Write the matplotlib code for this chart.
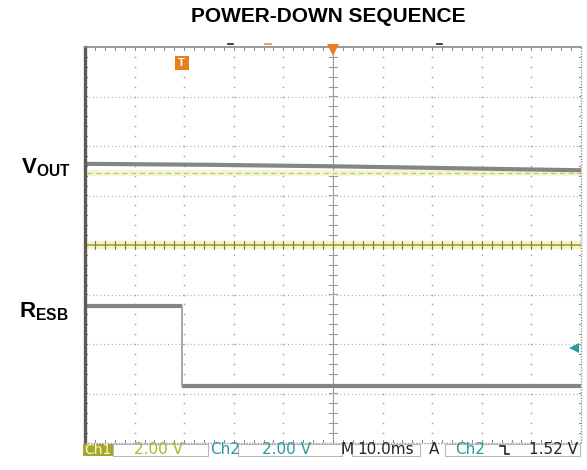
import numpy as np
import matplotlib.pyplot as plt
from matplotlib.patches import Rectangle
from matplotlib.lines import Line2D

# screen is 10 x 8 divisions, y centred on 0
vout_t = [0.0, 2.5, 5.0, 7.5, 10.0]
vout_div = [1.64, 1.62, 1.59, 1.55, 1.51]
resb_high_t = [0.0, 1.95]
resb_high = -1.23
resb_low_t = [1.95, 10.0]
resb_low = -2.85
cursor_div = 1.45
trig_pos = 1.95
trig_level = -2.08

title = 'POWER-DOWN SEQUENCE'
status = ['Ch1', '2.00 V', 'Ch2', '2.00 V', 'M', '10.0ms', 'A', 'Ch2', '1.52 V']

W, H = 587, 470
olive = '#b2b22e'
teal = '#2a9c9c'
orange = '#e8801e'
grid_c = '#a8a8a8'
trace_c = '#858585'

plt.rcParams['font.family'] = ['Liberation Sans', 'DejaVu Sans']
plt.rcParams['mathtext.fontset'] = 'custom'
plt.rcParams['mathtext.bf'] = 'Liberation Sans:bold'

fig = plt.figure(figsize=(W / 100, H / 100), dpi=100)
ax = fig.add_axes([85 / W, 27 / H, 496 / W, 396 / H])
ax.set_xlim(0, 10)
ax.set_ylim(-4, 4)
ax.axis('off')

def fx(x):
    return x / W

def fy(y):
    return 1 - y / H

# grid
for gy in range(-3, 4):
    if gy == 0:
        continue
    ax.plot([0, 10], [gy, gy], color=grid_c, lw=0.9, ls=(0, (0.8, 2.2)), zorder=1)
minor = np.arange(0, 8.01, 0.2) - 4
for gx in range(1, 10):
    if gx == 5:
        continue
    ax.plot(np.full(len(minor), gx), minor, ls='none', marker='s', ms=1.1,
            color=grid_c, mew=0, zorder=1)

# centre crosshair with ticks
ax.plot([5, 5], [-4, 4], color='#9a9a9a', lw=0.8, zorder=2)
for v in np.arange(-4, 4.01, 0.2):
    ax.plot([4.92, 5.08], [v, v], color='#9a9a9a', lw=0.8, zorder=2)
ax.plot([-0.05, 10], [0, 0], color='#f4f4c8', lw=6, zorder=2, solid_capstyle='butt')
ax.plot([-0.05, 10], [0, 0], color=olive, lw=1.4, zorder=3)
for u in np.arange(0, 10.01, 0.2):
    ax.plot([u, u], [-0.08, 0.08], color='#777777', lw=0.8, zorder=3)

# edge ticks
for u in np.arange(0, 10.01, 0.2):
    ax.plot([u, u], [3.94, 4], color='#888888', lw=0.7, zorder=2)
    ax.plot([u, u], [-4, -3.94], color='#888888', lw=0.7, zorder=2)
for v in np.arange(-4, 4.01, 0.2):
    ax.plot([0, 0.05], [v, v], color='#777777', lw=0.7, zorder=2)
    ax.plot([9.95, 10], [v, v], color='#888888', lw=0.7, zorder=2)

# frame
ax.plot([0, 0], [-4, 4], color='#5a5a5a', lw=2.4, zorder=5, clip_on=False)
ax.plot([0, 10], [4, 4], color='#8a8a8a', lw=1.2, zorder=5, clip_on=False)
ax.plot([10, 10], [-4, 4], color='#9a9a9a', lw=1.0, ls=(0, (1, 1)), zorder=5, clip_on=False)
ax.plot([0, 10], [-4, -4], color='#9a9a9a', lw=1.0, ls=(0, (1, 1)), zorder=5, clip_on=False)

# cursor line
ax.plot([0.05, 10], [cursor_div, cursor_div], color='#f4f4d4', lw=4, zorder=3)
ax.plot([0.05, 10], [cursor_div, cursor_div], color='#c8c860', lw=0.9,
        ls=(0, (4, 3)), zorder=3)

# traces
ax.plot(vout_t, vout_div, color=trace_c, lw=3.0, zorder=4)
ax.plot(resb_high_t, [resb_high, resb_high], color=trace_c, lw=3.0, zorder=4,
        solid_capstyle='butt')
ax.plot(resb_low_t, [resb_low, resb_low], color=trace_c, lw=3.0, zorder=4,
        solid_capstyle='butt')
ax.plot([trig_pos, trig_pos], [resb_high, resb_low], color='#999999', lw=1.2, zorder=4)

# markers
ax.plot(5, 3.93, marker='v', ms=8, color=orange, mew=0, zorder=6, clip_on=False)
ax.plot(trig_pos, 3.68, marker='s', ms=10, color=orange, mew=0, zorder=6)
ax.text(trig_pos, 3.68, 'T', color='white', fontsize=8, fontweight='bold',
        ha='center', va='center', zorder=7)
ax.plot(9.86, trig_level, marker='<', ms=7, color=teal, mew=0, zorder=6)
ax.plot([3.62, 3.76], [4.06, 4.06], color=orange, lw=1.5, alpha=0.7, clip_on=False)
ax.plot([2.88, 2.98], [4.06, 4.06], color='#222222', lw=1.2, clip_on=False)
ax.plot([7.1, 7.2], [4.06, 4.06], color='#222222', lw=1.2, clip_on=False)

# title and channel labels
fig.text(fx(328), fy(17), title, fontsize=15, fontweight='bold', ha='center', va='center')
fig.text(fx(21), fy(168), r'$\mathbf{V_{OUT}}$', fontsize=16, ha='left', va='center')
fig.text(fx(19), fy(312), r'$\mathbf{R_{ESB}}$', fontsize=16, ha='left', va='center')

# status bar
ty = fy(450)
sfont = dict(family='DejaVu Sans', fontsize=11, va='center')
fig.add_artist(Rectangle((fx(83), fy(456)), 30 / W, 12 / H, color='#a6a62a', lw=0))
for x0, x1 in [(113, 208), (238, 342), (352, 420), (445, 580)]:
    fig.add_artist(Rectangle((fx(x0), fy(456)), (x1 - x0) / W, 12 / H,
                             fill=False, ec='#b8b8b8', lw=0.8))
fig.text(fx(98), ty, status[0], color='#f4f4dc', ha='center', family='DejaVu Sans',
         fontsize=10, va='center')
fig.text(fx(158), ty, status[1], color=olive, ha='center', **sfont)
fig.text(fx(225), ty, status[2], color=teal, ha='center', **sfont)
fig.text(fx(286), ty, status[3], color=teal, ha='center', **sfont)
fig.text(fx(347), ty, status[4], color='#222222', ha='center', **sfont)
fig.text(fx(386), ty, status[5], color='#222222', ha='center', **sfont)
fig.text(fx(434), ty, status[6], color='#222222', ha='center', **sfont)
fig.text(fx(470), ty, status[7], color=teal, ha='center', **sfont)
fig.text(fx(578), ty, status[8], color='#222222', ha='right', **sfont)
# falling edge symbol
fig.add_artist(Line2D([fx(500), fx(505), fx(505), fx(509)],
                      [fy(446), fy(446), fy(454), fy(454)], color='#222222', lw=1.2))

fig.savefig('out.png', dpi=100)
